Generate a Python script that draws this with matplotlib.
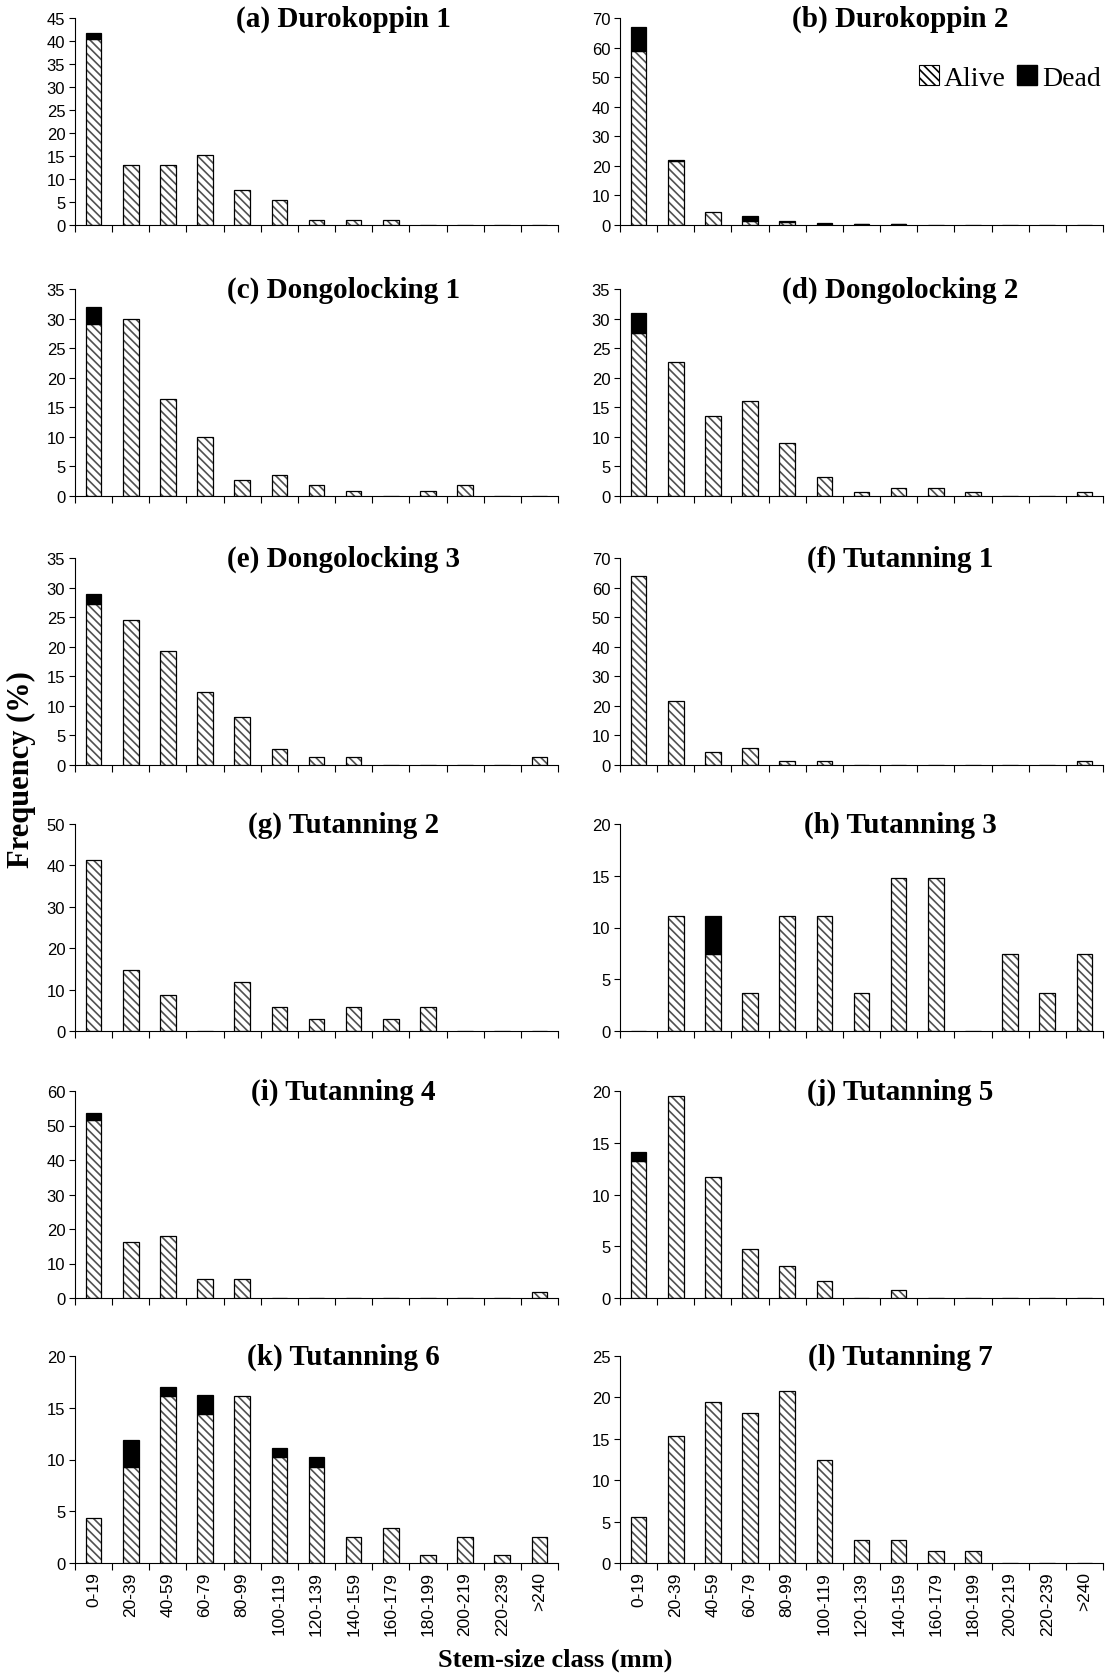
import matplotlib
matplotlib.use('Agg')
import matplotlib.pyplot as plt
from matplotlib.patches import Patch
import numpy as np

size_classes = ['0-19', '20-39', '40-59', '60-79', '80-99', '100-119', '120-139',
                '140-159', '160-179', '180-199', '200-219', '220-239', '>240']

# frequency (%) per stem-size class, alive and dead stems
alive_a = [40.5, 13.0, 13.0, 15.3, 7.6, 5.4, 1.1, 1.1, 1.1, 0, 0, 0, 0]
dead_a = [1.2, 0, 0, 0, 0, 0, 0, 0, 0, 0, 0, 0, 0]
alive_b = [59.0, 21.5, 4.5, 1.5, 1.0, 0.3, 0.3, 0.3, 0, 0, 0, 0, 0]
dead_b = [8.0, 0.5, 0, 1.5, 0.5, 0.4, 0.2, 0.2, 0, 0, 0, 0, 0]
alive_c = [29.0, 30.0, 16.4, 10.0, 2.7, 3.6, 1.8, 0.9, 0, 0.9, 1.8, 0, 0]
dead_c = [2.9, 0, 0, 0, 0, 0, 0, 0, 0, 0, 0, 0, 0]
alive_d = [27.5, 22.6, 13.5, 16.1, 9.0, 3.2, 0.6, 1.3, 1.3, 0.6, 0, 0, 0.6]
dead_d = [3.5, 0, 0, 0, 0, 0, 0, 0, 0, 0, 0, 0, 0]
alive_e = [27.3, 24.6, 19.2, 12.3, 8.2, 2.7, 1.4, 1.4, 0, 0, 0, 0, 1.4]
dead_e = [1.6, 0, 0, 0, 0, 0, 0, 0, 0, 0, 0, 0, 0]
alive_f = [63.8, 21.7, 4.3, 5.8, 1.4, 1.4, 0, 0, 0, 0, 0, 0, 1.4]
dead_f = [0, 0, 0, 0, 0, 0, 0, 0, 0, 0, 0, 0, 0]
alive_g = [41.2, 14.7, 8.8, 0, 11.8, 5.9, 2.9, 5.9, 2.9, 5.9, 0, 0, 0]
dead_g = [0, 0, 0, 0, 0, 0, 0, 0, 0, 0, 0, 0, 0]
alive_h = [0, 11.1, 7.4, 3.7, 11.1, 11.1, 3.7, 14.8, 14.8, 0, 7.4, 3.7, 7.4]
dead_h = [0, 0, 3.7, 0, 0, 0, 0, 0, 0, 0, 0, 0, 0]
alive_i = [51.5, 16.2, 17.9, 5.4, 5.4, 0, 0, 0, 0, 0, 0, 0, 1.8]
dead_i = [2.0, 0, 0, 0, 0, 0, 0, 0, 0, 0, 0, 0, 0]
alive_j = [13.2, 19.5, 11.7, 4.7, 3.1, 1.6, 0, 0.8, 0, 0, 0, 0, 0]
dead_j = [0.9, 0, 0, 0, 0, 0, 0, 0, 0, 0, 0, 0, 0]
alive_k = [4.3, 9.3, 16.1, 14.4, 16.1, 10.2, 9.3, 2.5, 3.4, 0.8, 2.5, 0.8, 2.5]
dead_k = [0, 2.6, 0.9, 1.8, 0, 0.9, 0.9, 0, 0, 0, 0, 0, 0]
alive_l = [5.5, 15.3, 19.4, 18.1, 20.8, 12.5, 2.8, 2.8, 1.4, 1.4, 0, 0, 0]
dead_l = [0, 0, 0, 0, 0, 0, 0, 0, 0, 0, 0, 0, 0]

titles = ['(a) Durokoppin 1', '(b) Durokoppin 2', '(c) Dongolocking 1', '(d) Dongolocking 2',
          '(e) Dongolocking 3', '(f) Tutanning 1', '(g) Tutanning 2', '(h) Tutanning 3',
          '(i) Tutanning 4', '(j) Tutanning 5', '(k) Tutanning 6', '(l) Tutanning 7']
y_max = [45, 70, 35, 35, 35, 70, 50, 20, 60, 20, 20, 25]
y_step = [5, 10, 5, 5, 5, 10, 10, 5, 10, 5, 5, 5]

alive_all = [alive_a, alive_b, alive_c, alive_d, alive_e, alive_f,
             alive_g, alive_h, alive_i, alive_j, alive_k, alive_l]
dead_all = [dead_a, dead_b, dead_c, dead_d, dead_e, dead_f,
            dead_g, dead_h, dead_i, dead_j, dead_k, dead_l]

plt.rcParams['font.family'] = ['Liberation Sans', 'DejaVu Sans']
plt.rcParams['hatch.linewidth'] = 1.2
serif = 'Liberation Serif'
HATCH = '\\\\\\\\'

W, H = 1115, 1674
fig = plt.figure(figsize=(W / 100, H / 100), dpi=100)

# pixel layout of the panels (zero line y position of each row)
row_bottoms = [226, 497, 766, 1032, 1299, 1564]
col_lefts = [75, 620]
title_x = [0.555, 0.58]
ax_w, ax_h = 483, 207


def draw_panel(ax, alive, dead, ymax, ystep, title, tx, show_labels):
    x = np.arange(len(size_classes))
    alive = np.array(alive)
    dead = np.array(dead)
    ax.bar(x, alive, width=0.42, color='white', edgecolor='#505050',
           hatch=HATCH, linewidth=0)
    ax.bar(x, alive, width=0.42, color='none', edgecolor='black', linewidth=0.9)
    m = dead > 0
    ax.bar(x[m], dead[m], bottom=alive[m], width=0.42, color='black',
           edgecolor='black', linewidth=0.9)

    ax.set_xlim(-0.5, len(size_classes) - 0.5)
    ax.set_ylim(0, ymax)
    ax.set_yticks(np.arange(0, ymax + 0.1, ystep))
    ax.set_xticks(np.arange(-0.5, len(size_classes), 1))
    ax.set_xticklabels([])
    ax.set_xticks(x, minor=True)
    if show_labels:
        ax.set_xticklabels(size_classes, minor=True, rotation=90, fontsize=12.5)
    ax.tick_params(axis='x', which='minor', length=0, pad=6)
    ax.tick_params(axis='x', which='major', length=5, direction='out', width=0.8)
    ax.tick_params(axis='y', length=4, direction='out', width=0.8, labelsize=12, pad=3)
    for s in ['top', 'right']:
        ax.spines[s].set_visible(False)
    for s in ['left', 'bottom']:
        ax.spines[s].set_linewidth(0.8)
    ax.text(tx, 1.0, title, transform=ax.transAxes, ha='center', va='center',
            fontsize=21, fontweight='bold', family=serif)


axes = []
for i in range(12):
    r, c = divmod(i, 2)
    left = col_lefts[c] / W
    bottom = 1 - row_bottoms[r] / H
    ax = fig.add_axes([left, bottom, ax_w / W, ax_h / H])
    draw_panel(ax, alive_all[i], dead_all[i], y_max[i], y_step[i], titles[i],
               title_x[c], r == 5)
    axes.append(ax)

handles = [Patch(facecolor='white', edgecolor='black', hatch=HATCH, linewidth=0.8),
           Patch(facecolor='black', edgecolor='black')]
axes[1].legend(handles, ['Alive', 'Dead'], loc='center right', bbox_to_anchor=(1.03, 0.71),
               ncol=2, frameon=False, prop={'family': serif, 'size': 20},
               handlelength=0.7, handleheight=0.7, handletextpad=0.2, columnspacing=0.4,
               borderpad=0.1)

fig.text(21 / W, 1 - 770 / H, 'Frequency (%)', rotation=90, ha='center', va='center',
         fontsize=22, fontweight='bold', family=serif)
fig.text(555 / W, 1 - 1660 / H, 'Stem-size class (mm)', ha='center', va='center',
         fontsize=19, fontweight='bold', family=serif)

fig.savefig('out.png', dpi=100)
